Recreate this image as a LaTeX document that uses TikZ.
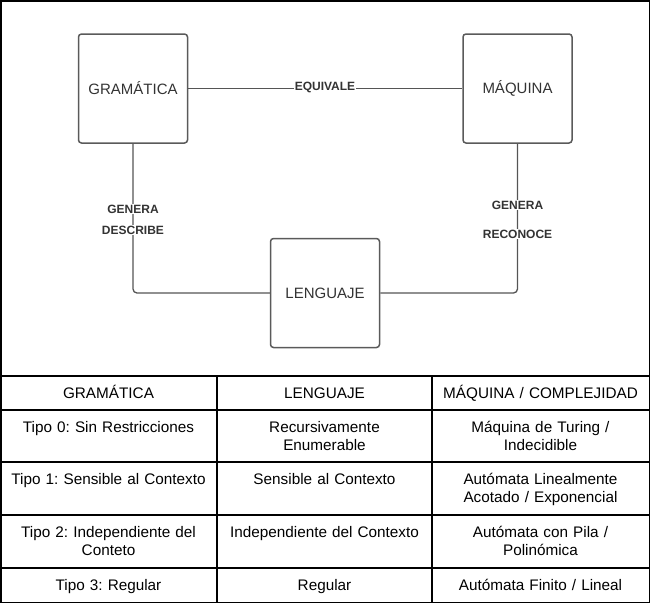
\documentclass[tikz,border=0pt]{standalone}
\usepackage{fontspec}
\setmainfont{Liberation Sans}
\definecolor{boxgray}{HTML}{5A5A5A}
\definecolor{linegray}{HTML}{555555}
\definecolor{textgray}{HTML}{333333}
\frenchspacing
\begin{document}
\begin{tikzpicture}[x=1pt,y=-1pt,line width=1.5pt,
    box/.style={draw=boxgray,rounded corners=3pt,minimum width=109pt,minimum height=109pt,inner sep=0pt,text=textgray,font=\fontsize{15}{18}\selectfont},
    conn/.style={draw=linegray,line width=1.3pt,rounded corners=4pt},
    lbl/.style={fill=white,inner sep=1pt,text=textgray,font=\fontsize{12}{14}\selectfont\bfseries},
    cell/.style={anchor=base,text width=205pt,align=center,inner sep=0pt,font=\fontsize{15.3}{18}\selectfont}]
      \pgfmathsetmacro{\ca}{108.5}
      \pgfmathsetmacro{\cb}{324.5}
      \pgfmathsetmacro{\cc}{540.5}
      \pgfmathsetmacro{\dy}{22.5}

      \useasboundingbox (0,0) rectangle (650,603);
      \draw (0.75,0.75) rectangle (649.25,602.25);

      \node[box] (G) at (133,88.5) {GRAMÁTICA};
      \node[box] (M) at (517.5,88.5) {MÁQUINA};
      \node[box] (L) at (325,293) {LENGUAJE};

      \draw[conn] (G) -- (M);
      \draw[conn] (G.south) |- (L.west);
      \draw[conn] (M.south) |- (L.east);

      \node[lbl] (eq) at (325,87.5) {EQUIVALE};
      \node[lbl] (genG) at (133,209) {GENERA};
      \node[lbl] (desc) at (133,230) {DESCRIBE};
      \node[lbl] (genM) at (517.5,205) {GENERA};
      \node[lbl] (reco) at (517.5,234) {RECONOCE};

      \draw (0,376) -- (650,376);
      \draw (0,410) -- (650,410);
      \draw (0,462) -- (650,462);
      \draw (0,515) -- (650,515);
      \draw (0,568) -- (650,568);
      \draw (217,376) -- (217,603);
      \draw (432,376) -- (432,603);

      \node[cell] (h1) at (\ca,376+\dy) {GRAMÁTICA};
      \node[cell] (h2) at (\cb,376+\dy) {LENGUAJE};
      \node[cell] (h3) at (\cc,376+\dy) {MÁQUINA / COMPLEJIDAD};

      \node[cell] (g0) at (\ca,410+\dy) {Tipo 0: Sin Restricciones};
      \node[cell] (l0) at (\cb,410+\dy) {Recursivamente\\Enumerable};
      \node[cell] (m0) at (\cc,410+\dy) {Máquina de Turing /\\Indecidible};

      \node[cell] (g1) at (\ca,462+\dy) {Tipo 1: Sensible al Contexto};
      \node[cell] (l1) at (\cb,462+\dy) {Sensible al Contexto};
      \node[cell] (m1) at (\cc,462+\dy) {Autómata Linealmente\\Acotado / Exponencial};

      \node[cell] (g2) at (\ca,515+\dy) {Tipo 2: Independiente del\\Conteto};
      \node[cell] (l2) at (\cb,515+\dy) {Independiente del Contexto};
      \node[cell] (m2) at (\cc,515+\dy) {Autómata con Pila /\\Polinómica};

      \node[cell] (g3) at (\ca,568+\dy) {Tipo 3: Regular};
      \node[cell] (l3) at (\cb,568+\dy) {Regular};
      \node[cell] (m3) at (\cc,568+\dy) {Autómata Finito / Lineal};
    \end{tikzpicture}
\end{document}
